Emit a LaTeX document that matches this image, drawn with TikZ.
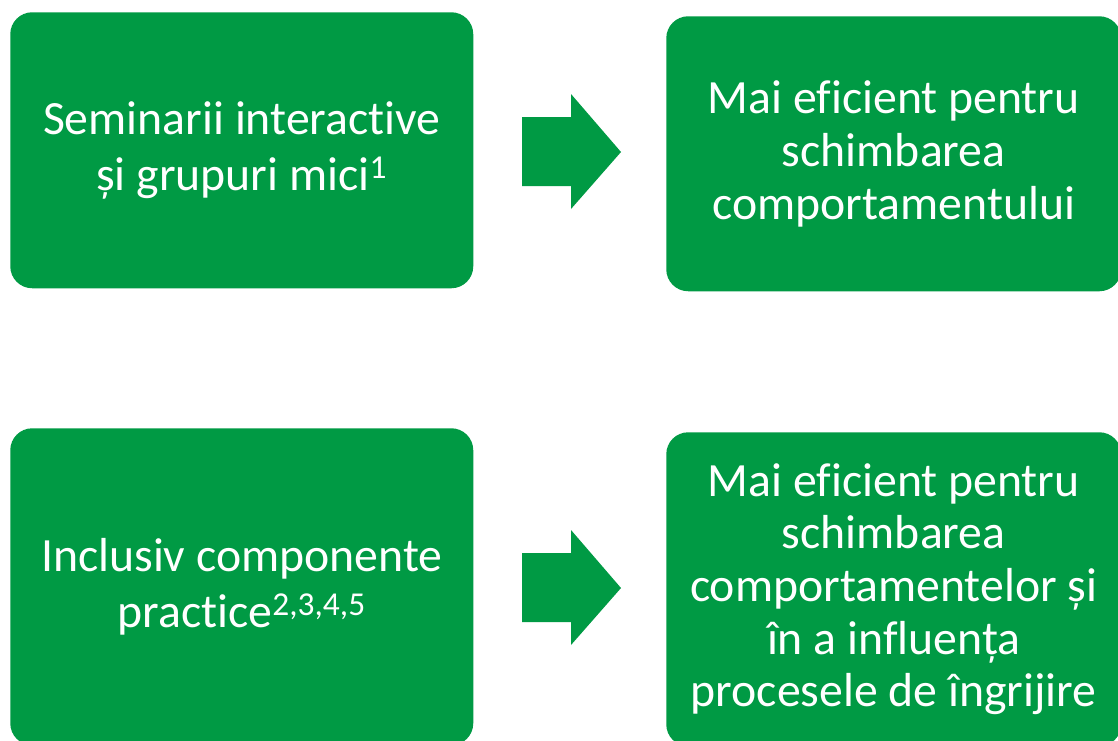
\documentclass[tikz,border=0pt]{standalone}
\usepackage{fontspec}
\setmainfont{Carlito}[Ligatures=NoCommon]
\definecolor{boxgreen}{RGB}{0,154,68}

\begin{document}
\begin{tikzpicture}[x=0.75pt,y=-0.75pt]
	\tikzset{
		greenbox/.style={rectangle, fill=boxgreen, rounded corners=16.5pt, text=white,
			align=center, inner sep=0pt, anchor=north west},
		causebox/.style={greenbox, minimum width=347.25pt, font=\fontsize{35.8}{42}\selectfont},
		effectbox/.style={greenbox, minimum width=341.25pt, font=\fontsize{35.8}{39.5}\selectfont}
	}
	\clip (0,0) rectangle (1118,740);
	\fill[white] (0,0) rectangle (1118,740);
	% left column
	\node[causebox, minimum height=207pt] (seminar) at (10,12)
		{Seminarii interactive\\ și grupuri mici\textsuperscript{1}};
	\node[causebox, minimum height=237.75pt] (practic) at (10,428)
		{Inclusiv componente\\ practice\textsuperscript{2,3,4,5}};
	% right column
	\node[effectbox, minimum height=206.25pt] (comport) at (666,16)
		{Mai eficient pentru\\ schimbarea\\ comportamentului};
	\node[effectbox, minimum height=235.5pt] (ingrijire) at (666,432)
		{Mai eficient pentru\\ schimbarea\\ comportamentelor și\\ în a influența\\ procesele de îngrijire};
	% block arrows
	\foreach \m in {152,588}
		\fill[boxgreen] (522,\m-35) -- (571,\m-35) -- (571,\m-58) -- (621,\m)
			-- (571,\m+57) -- (571,\m+34) -- (522,\m+34) -- cycle;
\end{tikzpicture}
\end{document}
